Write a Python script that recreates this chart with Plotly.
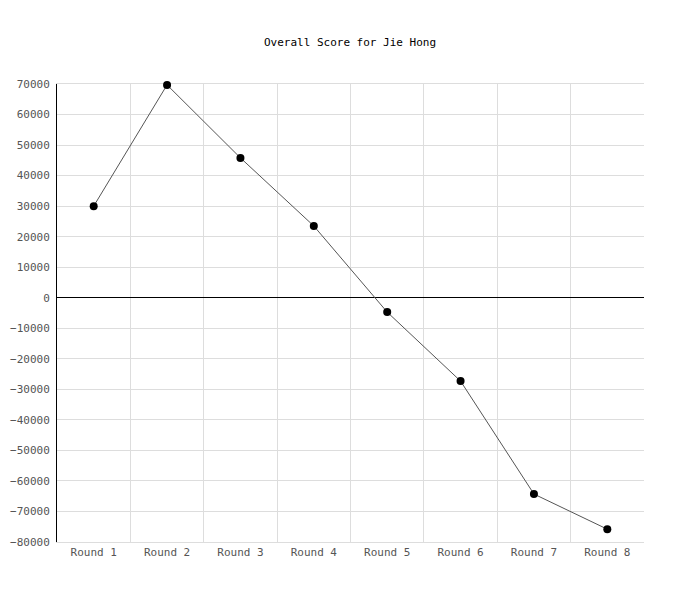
import plotly.graph_objects as go

rounds = ["Round 1", "Round 2", "Round 3", "Round 4", "Round 5", "Round 6", "Round 7", "Round 8"]
scores = [30000, 69700, 45800, 23500, -4700, -27300, -64300, -75800]

fig = go.Figure()
fig.add_trace(go.Scatter(
    x=rounds, y=scores, mode="lines+markers",
    line=dict(color="#555555", width=1),
    marker=dict(color="black", size=8),
    cliponaxis=False,
))

# page has an 8px body margin, so margins are offset accordingly
fig.update_layout(
    width=700, height=600,
    paper_bgcolor="white", plot_bgcolor="white",
    margin=dict(l=49, r=64, t=76, b=66, autoexpand=False),
    showlegend=False,
    font=dict(family="DejaVu Sans Mono", size=11, color="#555555"),
    title=dict(text="Overall Score for Jie Hong", x=(350 - 8) / 700, xanchor="center",
               y=1 - 34 / 600, yanchor="middle",
               font=dict(family="DejaVu Sans Mono", size=11, color="black")),
)
fig.update_xaxes(
    showgrid=True, gridcolor="#dddddd", tickson="boundaries", ticks="",
    showline=True, linecolor="#dddddd", mirror=True, range=[-0.5, 7.5],
    automargin=False, layer="below traces",
)
fig.update_yaxes(
    range=[-80000, 70000], dtick=10000, tickformat="d",
    showgrid=True, gridcolor="#dddddd",
    zeroline=True, zerolinecolor="black", zerolinewidth=1,
    showline=True, linecolor="black", ticks="", ticklabelstandoff=4,
    automargin=False, layer="below traces",
)

fig.write_html("out.html")
